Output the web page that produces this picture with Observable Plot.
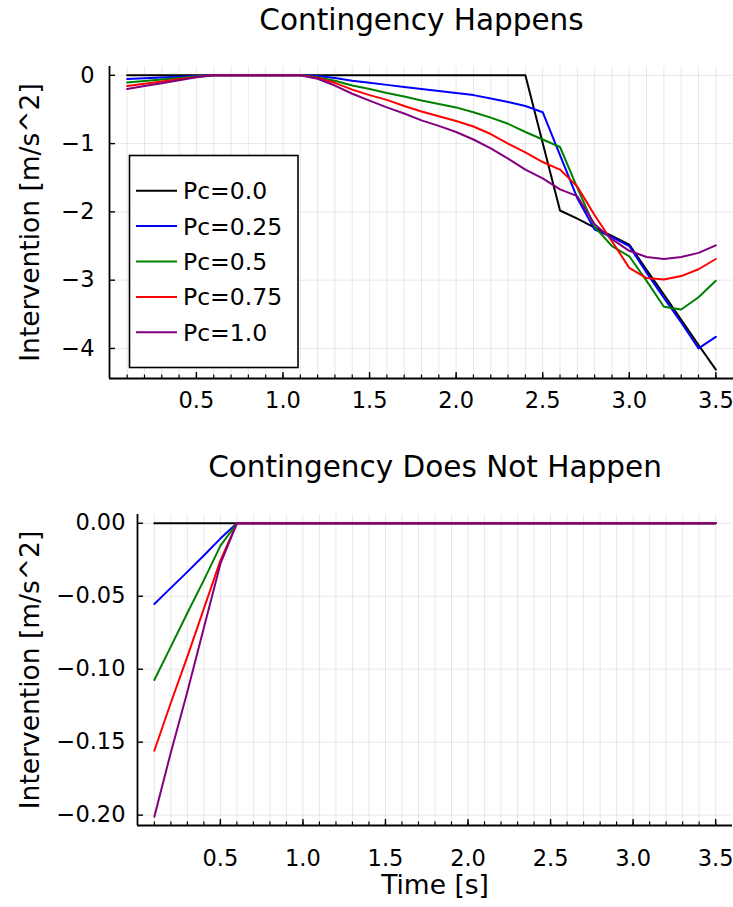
<!DOCTYPE html>
<html><head><meta charset="utf-8">
<script src="https://cdn.jsdelivr.net/npm/d3@7"></script>
<script src="https://cdn.jsdelivr.net/npm/@observablehq/plot@0.6"></script>
<style>
body{margin:0;background:#fff;}
#wrap{position:relative;width:733px;height:907px;overflow:hidden;font-family:"DejaVu Sans",sans-serif;background:#fff;}
#wrap > svg{position:absolute;left:0;}
</style></head><body><div id="wrap"></div>
<script>
// ---- data ----
const time = [0.1,0.2,0.3,0.4,0.5,0.6,0.7,0.8,0.9,1.0,1.1,1.2,1.3,1.4,1.5,1.6,1.7,1.8,1.9,2.0,2.1,2.2,2.3,2.4,2.5,2.6,2.7,2.8,2.9,3.0,3.1,3.2,3.3,3.4,3.5];
const seriesLabels = ["Pc=0.0","Pc=0.25","Pc=0.5","Pc=0.75","Pc=1.0"];
const seriesColors = ["#000000","#0000ff","#008000","#ff0000","#800080"];

const topPc00  = [0,0,0,0,0, 0,0,0,0,0, 0,0,0,0,0, 0,0,0,0,0, 0,0,0,0,-0.99, -1.98,-2.10,-2.23,-2.35,-2.48, -2.85,-3.21,-3.58,-3.95,-4.31];
const topPc025 = [-0.055,-0.044,-0.033,-0.022,-0.011, 0,0,0,0,0, 0,-0.01,-0.04,-0.08,-0.11, -0.14,-0.17,-0.20,-0.23,-0.26, -0.29,-0.34,-0.39,-0.45,-0.54, -1.17,-1.80,-2.26,-2.37,-2.50, -2.89,-3.26,-3.62,-4.00,-3.83];
const topPc05  = [-0.107,-0.085,-0.062,-0.039,-0.016, 0,0,0,0,0, 0,-0.03,-0.08,-0.15,-0.20, -0.26,-0.31,-0.37,-0.42,-0.47, -0.54,-0.62,-0.71,-0.83,-0.94, -1.05,-1.65,-2.22,-2.50,-2.65, -3.01,-3.39,-3.43,-3.25,-3.01];
const topPc075 = [-0.156,-0.123,-0.091,-0.059,-0.026, 0,0,0,0,0, 0,-0.04,-0.11,-0.21,-0.29, -0.36,-0.45,-0.53,-0.60,-0.67, -0.75,-0.86,-1.00,-1.13,-1.27, -1.38,-1.63,-2.05,-2.43,-2.82, -2.97,-2.99,-2.94,-2.84,-2.69];
const topPc10  = [-0.201,-0.157,-0.115,-0.072,-0.028, 0,0,0,0,0, 0,-0.05,-0.15,-0.27,-0.37, -0.47,-0.56,-0.66,-0.74,-0.83, -0.94,-1.07,-1.22,-1.38,-1.51, -1.67,-1.77,-2.18,-2.40,-2.57, -2.66,-2.69,-2.66,-2.60,-2.49];

const botPc00  = [0,0,0,0,0, 0,0,0,0,0, 0,0,0,0,0, 0,0,0,0,0, 0,0,0,0,0, 0,0,0,0,0, 0,0,0,0,0];
const botPc025 = [-0.0553,-0.0443,-0.0333,-0.0221,-0.0105, 0,0,0,0,0, 0,0,0,0,0, 0,0,0,0,0, 0,0,0,0,0, 0,0,0,0,0, 0,0,0,0,0];
const botPc05  = [-0.1074,-0.0845,-0.0615,-0.0390,-0.0155, 0,0,0,0,0, 0,0,0,0,0, 0,0,0,0,0, 0,0,0,0,0, 0,0,0,0,0, 0,0,0,0,0];
const botPc075 = [-0.1559,-0.1230,-0.0914,-0.0585,-0.0256, 0,0,0,0,0, 0,0,0,0,0, 0,0,0,0,0, 0,0,0,0,0, 0,0,0,0,0, 0,0,0,0,0];
const botPc10  = [-0.2011,-0.1570,-0.1154,-0.0716,-0.0279, 0,0,0,0,0, 0,0,0,0,0, 0,0,0,0,0, 0,0,0,0,0, 0,0,0,0,0, 0,0,0,0,0];

const xTicks = [0.5,1.0,1.5,2.0,2.5,3.0,3.5];
const xMinorTicks = time;
const topYTicks = [0,-1,-2,-3,-4];
const botYTicks = [0,-0.05,-0.10,-0.15,-0.20];
const xDomain = [-0.002, 3.602];
const topYDomain = [-4.44, 0.129];
const botYDomain = [-0.2071, 0.006];

const topTitle = "Contingency Happens";
const botTitle = "Contingency Does Not Happen";
const yLabel = "Intervention [m/s^2]";
const xLabel = "Time [s]";

// ---- build ----
function rows(seriesList){
  const out = [];
  seriesList.forEach((vals, s) => vals.forEach((v, i) => out.push({t: time[i], v, pc: seriesLabels[s]})));
  return out;
}
const topRows = rows([topPc00, topPc025, topPc05, topPc075, topPc10]);
const botRows = rows([botPc00, botPc025, botPc05, botPc075, botPc10]);

const FONT = "DejaVu Sans";
const gridStyle = {stroke: "#000", strokeOpacity: 0.09, strokeWidth: 1};

function makeChart(o){
  const ph = o.height - o.mt - o.mb;
  const pw = 733 - o.ml - o.mr;
  return Plot.plot({
    width: 733, height: o.height,
    marginLeft: o.ml, marginRight: o.mr, marginTop: o.mt, marginBottom: o.mb,
    x: {domain: xDomain},
    y: {domain: o.yDomain},
    color: {domain: seriesLabels, range: seriesColors},
    style: {fontFamily: FONT, fontSize: "22.5px", color: "#000", background: "transparent", overflow: "visible"},
    marks: [
      Plot.gridX(xMinorTicks, gridStyle),
      Plot.gridY(o.yTicks, gridStyle),
      Plot.line(o.rows, {x: "t", y: "v", z: "pc", stroke: "pc", strokeWidth: 2, strokeLinejoin: "round"}),
      // inward tick marks
      Plot.ruleX(xMinorTicks, {insetTop: ph - 3.5, stroke: "#000", strokeWidth: 1.2}),
      Plot.ruleX(xTicks, {insetTop: ph - 6, stroke: "#000", strokeWidth: 1.4}),
      Plot.ruleY(o.yTicks, {insetRight: pw - 6, stroke: "#000", strokeWidth: 1.4}),
      // axis lines
      Plot.ruleY([o.yDomain[0]], {stroke: "#000", strokeWidth: 1.8}),
      Plot.ruleX([xDomain[0]], {stroke: "#000", strokeWidth: 1.8}),
      // tick labels
      Plot.axisX(xTicks, {tickSize: 0, tickPadding: o.xPad, tickFormat: d3.format(".1f"), label: null, fontSize: 22.5}),
      Plot.axisY(o.yTicks, {tickSize: 0, tickPadding: o.yPad, tickFormat: o.yFmt, label: null, fontSize: 22.5}),
      // titles / labels
      Plot.text([o.title], {frameAnchor: "top", dy: o.titleDy, fontSize: 29.5, fill: "#000", textAnchor: "middle", lineAnchor: "middle"}),
      Plot.text([yLabel], {frameAnchor: "left", rotate: -90, dx: o.yLabDx, fontSize: 26.5, fill: "#000", textAnchor: "middle", lineAnchor: "middle"}),
      ...(o.xLab ? [Plot.text([xLabel], {frameAnchor: "bottom", dy: o.xLabDy, fontSize: 26.5, fill: "#000", textAnchor: "middle", lineAnchor: "middle"})] : [])
    ]
  });
}

const wrap = document.getElementById("wrap");

const topChart = makeChart({
  height: 430, ml: 109, mr: 0, mt: 66, mb: 52,
  yDomain: topYDomain, yTicks: topYTicks, yFmt: d3.format("d"),
  rows: topRows, xPad: 14, yPad: 15, title: topTitle, titleDy: -46, yLabDx: -79
});
topChart.style.top = "0px";
wrap.appendChild(topChart);

const botChart = makeChart({
  height: 477, ml: 137, mr: 1, mt: 84, mb: 82,
  yDomain: botYDomain, yTicks: botYTicks, yFmt: d3.format(".2f"),
  rows: botRows, xPad: 25, yPad: 12, title: botTitle, titleDy: -47, yLabDx: -107,
  xLab: true, xLabDy: 60
});
botChart.style.top = "430px";
wrap.appendChild(botChart);

// ---- legend (inside top panel) ----
const lg = d3.select(wrap).append("svg")
  .attr("width", 733).attr("height", 430)
  .style("top", "0px").style("pointer-events", "none");
lg.append("rect").attr("x", 129.5).attr("y", 155.5).attr("width", 168.5).attr("height", 212)
  .attr("fill", "#fff").attr("stroke", "#000").attr("stroke-width", 1.6);
const rowY = [190.7, 226.1, 261.5, 296.9, 332.3];
seriesLabels.forEach((lab, i) => {
  lg.append("line").attr("x1", 136).attr("x2", 177).attr("y1", rowY[i]).attr("y2", rowY[i])
    .attr("stroke", seriesColors[i]).attr("stroke-width", 2);
  lg.append("text").attr("x", 183).attr("y", rowY[i]).attr("dy", "0.36em")
    .attr("font-family", FONT).attr("font-size", 23.5).attr("fill", "#000").text(lab);
});
</script></body></html>
